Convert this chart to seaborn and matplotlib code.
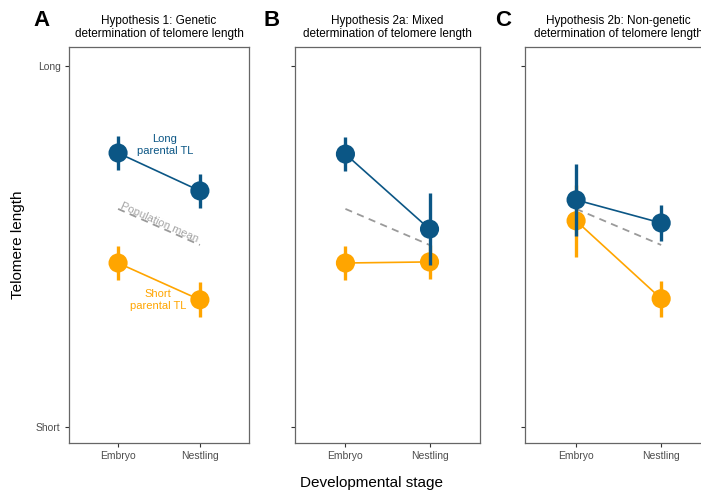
import pandas as pd
import matplotlib.pyplot as plt
import seaborn as sns

sns.set_theme(style='white')
plt.rcParams['font.family'] = ['Liberation Sans', 'DejaVu Sans']
plt.rcParams['text.color'] = 'black'

# data (0 = Short, 1 = Long)
stages = ['Embryo', 'Nestling']
panels = ['A', 'B', 'C']
titles = ['Hypothesis 1: Genetic\ndetermination of telomere length',
          'Hypothesis 2a: Mixed\ndetermination of telomere length',
          'Hypothesis 2b: Non-genetic\ndetermination of telomere length']
long_mean = [[0.759, 0.654], [0.756, 0.548], [0.629, 0.565]]
long_err = [[0.048, 0.048], [0.048, 0.100], [0.100, 0.050]]
short_mean = [[0.454, 0.352], [0.454, 0.457], [0.571, 0.355]]
short_err = [[0.048, 0.048], [0.048, 0.048], [0.100, 0.050]]
pop_mean = [0.604, 0.504]

blue = '#0b5685'
orange = '#ffa500'

rows = []
for i, p in enumerate(panels):
    for j, s in enumerate(stages):
        rows.append(dict(panel=p, stage=s, x=j, group='Short', tl=short_mean[i][j], err=short_err[i][j]))
        rows.append(dict(panel=p, stage=s, x=j, group='Long', tl=long_mean[i][j], err=long_err[i][j]))
        rows.append(dict(panel=p, stage=s, x=j, group='Mean', tl=pop_mean[j], err=0))
df = pd.DataFrame(rows)

fig = plt.figure(figsize=(7.01, 4.92), dpi=100)
positions = [[0.0984, 0.0996, 0.2568, 0.805],
             [0.4208, 0.0996, 0.2639, 0.805],
             [0.749, 0.0996, 0.267, 0.805]]

for i, p in enumerate(panels):
    ax = fig.add_axes(positions[i])
    d = df[df['panel'] == p]
    m = d[d['group'] == 'Mean']
    sns.lineplot(data=m, x='x', y='tl', color='#9a9a9a', lw=1.3, ax=ax,
                 linestyle=(0, (4, 3)), zorder=1)
    z = 2
    for g, col in [('Short', orange), ('Long', blue)]:
        gd = d[d['group'] == g]
        sns.lineplot(data=gd, x='x', y='tl', color=col, lw=1.2, ax=ax, zorder=z)
        ax.errorbar(gd['x'], gd['tl'], yerr=gd['err'], fmt='none', ecolor=col,
                    elinewidth=2.4, capsize=0, zorder=z + 0.5)
        sns.scatterplot(data=gd, x='x', y='tl', color=col, s=190, edgecolor='none',
                        ax=ax, zorder=z + 1)
        z += 3

    ax.set_xlim(-0.6, 1.6)
    ax.set_ylim(-0.045, 1.053)
    ax.set_xticks([0, 1])
    ax.set_xticklabels(stages, fontsize=7.5, color='#4d4d4d')
    ax.set_yticks([0, 1])
    if i == 0:
        ax.set_yticklabels(['Short', 'Long'], fontsize=7.5, color='#4d4d4d')
    else:
        ax.set_yticklabels([])
    ax.tick_params(axis='both', length=3, width=0.8, color='#333333', left=True, bottom=True, pad=3)
    ax.set_xlabel('')
    ax.set_ylabel('')
    for sp in ax.spines.values():
        sp.set_color('#666666')
        sp.set_linewidth(0.9)
    ax.set_title(titles[i], fontsize=8.5, pad=7, linespacing=1.1, color='black')

    if i == 0:
        ax.text(0.57, 0.781, 'Long\nparental TL', color=blue, fontsize=8,
                ha='center', va='center', linespacing=1.3)
        ax.text(0.49, 0.352, 'Short\nparental TL', color=orange, fontsize=8,
                ha='center', va='center', linespacing=1.3)
        ax.text(0.5, 0.566, 'Population mean', color='#a6a6a6', fontsize=8,
                ha='center', va='center', rotation=-24)

fig.text(42 / 701, 1 - 20 / 492, 'A', fontsize=16, fontweight='bold', ha='center', va='center')
fig.text(272 / 701, 1 - 20 / 492, 'B', fontsize=16, fontweight='bold', ha='center', va='center')
fig.text(503 / 701, 1 - 20 / 492, 'C', fontsize=16, fontweight='bold', ha='center', va='center')
fig.text(18 / 701, 1 - 245 / 492, 'Telomere length', fontsize=11, rotation=90, ha='center', va='center')
fig.text(372 / 701, 1 - 483 / 492, 'Developmental stage', fontsize=11, ha='center', va='center')

fig.savefig('out.png', dpi=100)
